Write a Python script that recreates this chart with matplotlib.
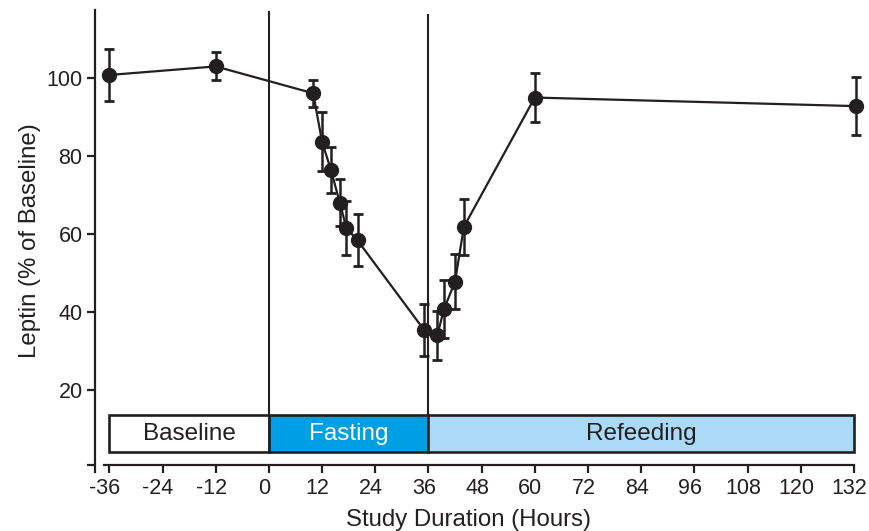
import matplotlib
matplotlib.use('Agg')
import matplotlib.pyplot as plt
from matplotlib.patches import Rectangle
from matplotlib.transforms import ScaledTranslation

plt.rcParams['font.family'] = ['Liberation Sans', 'DejaVu Sans']
plt.rcParams['axes.unicode_minus'] = False

INK = '#231f20'

# leptin time course (hours, % of baseline, error)
hours = [-36, -12, 10, 12, 14, 16, 17.5, 20, 35, 38, 39.5, 42, 44, 60, 132.5]
leptin = [100.9, 103.1, 96.2, 83.7, 76.5, 68.1, 61.5, 58.4, 35.4, 34.0, 40.7, 47.8, 61.9, 95.1, 92.9]
err = [6.6, 3.6, 3.4, 7.6, 5.9, 6.0, 6.9, 6.7, 6.7, 6.3, 7.5, 7.1, 7.2, 6.3, 7.4]

# study phases
phase_names = ['Baseline', 'Fasting', 'Refeeding']
phase_start = [-36, 0, 36]
phase_end = [0, 36, 132]
phase_fill = ['white', '#009fe3', '#aadaf5']
phase_text = [INK, 'white', INK]

xticks = [-36, -24, -12, 0, 12, 24, 36, 48, 60, 72, 84, 96, 108, 120, 132]
yticks = [0.6, 20, 40, 60, 80, 100]
ytick_labels = ['', '20', '40', '60', '80', '100']

fig = plt.figure(figsize=(8.69, 5.31), dpi=100)
ax = fig.add_axes([95 / 869, (531 - 471.5) / 531, 1 - 95 / 869, (471.5 - 10) / 531])

ax.set_xlim(-39.23, 135.4)
ax.set_ylim(-1, 117.6)

# phase bar along the bottom
bar_lo, bar_hi = 4.0, 13.5
for name, x0, x1, fc, tc in zip(phase_names, phase_start, phase_end, phase_fill, phase_text):
    ax.add_patch(Rectangle((x0, bar_lo), x1 - x0, bar_hi - bar_lo, facecolor=fc,
                           edgecolor=INK, linewidth=1.9, zorder=2))
    ax.text((x0 + x1) / 2, (bar_lo + bar_hi) / 2 - 0.2, name, ha='center', va='center',
            fontsize=17.5, color=tc, zorder=3)

# phase boundaries
ax.vlines([0, 36], bar_hi, [117.4, 116.6], colors=INK, linewidth=1.5, zorder=1)

ax.errorbar(hours, leptin, yerr=err, color=INK, linewidth=1.6, marker='o', markersize=10,
            ecolor=INK, elinewidth=1.8, capsize=3.6, capthick=2.0, zorder=4)

for s in ['top', 'right']:
    ax.spines[s].set_visible(False)
ax.spines['left'].set_linewidth(1.6)
ax.spines['bottom'].set_linewidth(1.6)
ax.spines['left'].set_color(INK)
ax.spines['bottom'].set_color(INK)
ax.spines['bottom'].set_position(('data', 0.6))
ax.spines['bottom'].set_bounds(-37.2, 132)
ax.spines['left'].set_bounds(-1, 117.6)

ax.set_xticks(xticks)
ax.set_xticklabels([str(t) for t in xticks])
ax.set_yticks(yticks)
ax.set_yticklabels(ytick_labels)
ax.tick_params(axis='both', direction='out', length=5.5, width=1.6, color=INK,
               labelsize=15.5, labelcolor=INK)
ax.tick_params(axis='x', pad=4)
ax.tick_params(axis='y', pad=3.5)

# labels in the original sit a few pixels left of their ticks
shift = ScaledTranslation(-4.5 / 100, 0, fig.dpi_scale_trans)
for lbl in ax.get_xticklabels():
    lbl.set_transform(lbl.get_transform() + shift)

ax.set_xlabel('Study Duration (Hours)', fontsize=17.3, color=INK)
ax.xaxis.set_label_coords(0.483, -0.082)
ax.set_ylabel('Leptin (% of Baseline)', fontsize=17.3, color=INK, labelpad=4)

fig.savefig('out.png', dpi=100)
